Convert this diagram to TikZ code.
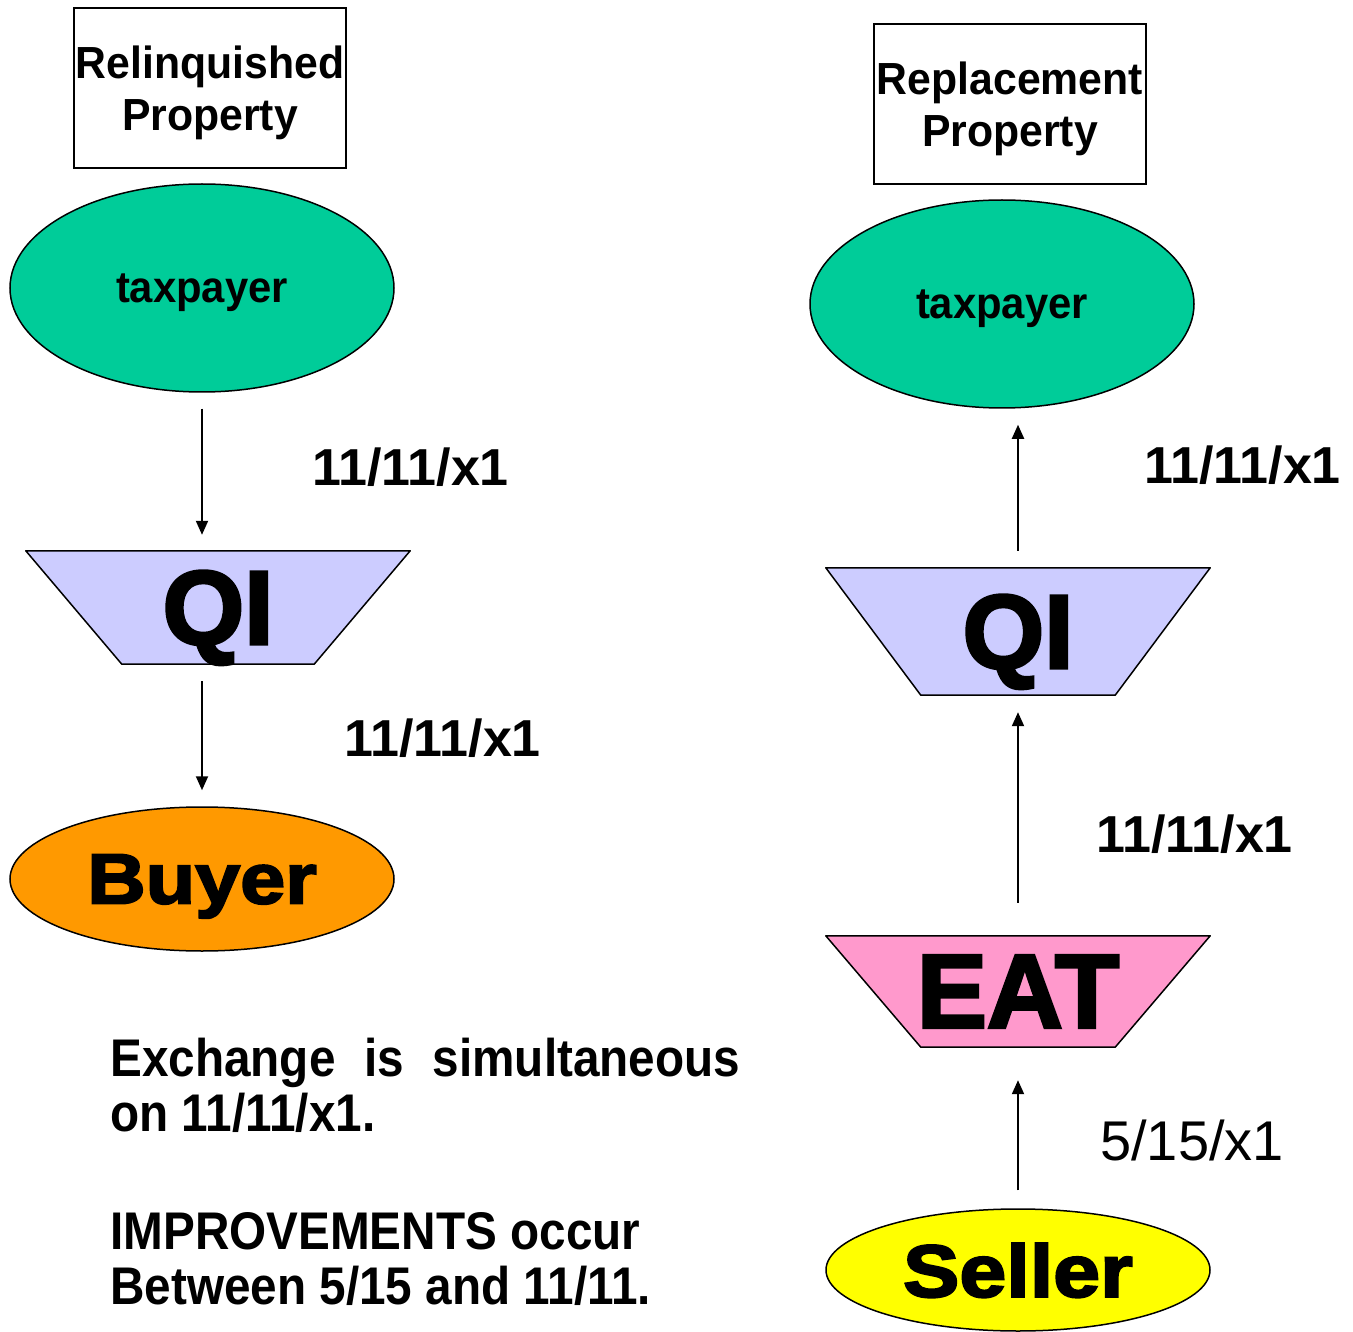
\documentclass[tikz,border=0pt]{standalone}
\usepackage{fontspec}
\setmainfont{Liberation Sans}
\newfontfamily\boxfont[FakeStretch=0.95]{Liberation Sans}
\newfontfamily\notefont[FakeStretch=0.9]{Liberation Sans}
\newfontfamily\heavyfont[FakeBold=3]{Liberation Sans}
\newfontfamily\widefont[FakeBold=3,FakeStretch=1.14]{Liberation Sans}
\usetikzlibrary{arrows.meta,positioning,backgrounds,shapes.geometric}

\definecolor{teal}{HTML}{00CC99}
\definecolor{qiblue}{HTML}{CCCCFF}
\definecolor{eatpink}{HTML}{FF99CC}
\definecolor{buyorange}{HTML}{FF9900}
\definecolor{sellyellow}{HTML}{FFFF00}

\begin{document}
\begin{tikzpicture}[x=1pt,y=-1pt,
    propbox/.style={draw,line width=2pt,minimum width=272pt,minimum height=160pt,inner sep=0pt,align=center,text depth=0pt,font=\boxfont\bfseries\fontsize{45}{52}\selectfont},
    party/.style={ellipse,draw,line width=1.5pt,inner sep=0pt,minimum width=384pt,text depth=0pt},
    agent/.style={inner sep=0pt,minimum width=384pt,text depth=0pt,font=\heavyfont\bfseries\fontsize{105}{105}\selectfont},
    date/.style={anchor=base west,inner sep=0pt,font=\bfseries\fontsize{52}{60}\selectfont},
    note/.style={anchor=base west,inner sep=0pt,align=left,font=\notefont\bfseries\fontsize{53}{55}\selectfont},
    flow/.style={line width=2pt,-{Triangle[length=14pt,width=12pt]}}]
        \useasboundingbox (0,0) rectangle (1353,1332);

        % relinquished side
        \node[propbox] (rel) at (210,88) {Relinquished\\Property};
        \node[party,fill=teal,minimum height=208pt,font=\boxfont\bfseries\fontsize{44}{52}\selectfont] (tp1) at (202,288) {taxpayer};
        \node[agent,minimum height=113pt] (qi1) at (218,607.5) {QI};
        \node[party,fill=buyorange,minimum height=144pt,font=\widefont\bfseries\fontsize{71}{71}\selectfont] (buyer) at (202,879) {Buyer};

        % replacement side
        \node[propbox] (rep) at (1010,104) {Replacement\\Property};
        \node[party,fill=teal,minimum height=208pt,font=\boxfont\bfseries\fontsize{44}{52}\selectfont] (tp2) at (1002,304) {taxpayer};
        \node[agent,minimum height=127pt] (qi2) at (1018,631.5) {QI};
        \node[agent,minimum height=111pt] (eat) at (1018,991.5) {EAT};
        \node[party,fill=sellyellow,minimum height=122pt,font=\widefont\bfseries\fontsize{74}{74}\selectfont] (seller) at (1018,1270) {Seller};

        % trapezoids behind the QI and EAT labels
        \begin{scope}[on background layer]
            \foreach \n/\c/\d in {qi1/qiblue/96,qi2/qiblue/95,eat/eatpink/95}{
                \filldraw[fill=\c,line width=1.5pt,line join=round] (\n.north west) -- (\n.north east)
                    -- ([xshift=-\d pt]\n.south east) -- ([xshift=\d pt]\n.south west) -- cycle;
            }
        \end{scope}

        \draw[flow,shorten <=16pt,shorten >=16pt] (tp1.south) -- (tp1.south |- qi1.north);
        \draw[flow,shorten <=17pt,shorten >=16pt] (buyer.north |- qi1.south) -- (buyer.north);
        \draw[flow,shorten <=17pt,shorten >=16pt] (qi2.north) -- (qi2.north |- tp2.south);
        \draw[flow,shorten <=33pt,shorten >=17pt] (eat.north) -- (qi2.south);
        \draw[flow,shorten <=18pt,shorten >=33pt] (seller.north) -- (eat.south);

        \node[date] (d1) at (312,485) {11/11/x1};
        \node[date] (d2) at (344,756) {11/11/x1};
        \node[date] (d3) at (1144,483) {11/11/x1};
        \node[date] (d4) at (1096,852) {11/11/x1};
        \node[date,font=\fontsize{56}{60}\selectfont] (d5) at (1100,1160) {5/15/x1};

        \node[note] (n1) at (110,1131) {\makebox[630pt][s]{Exchange is simultaneous}\\on 11/11/x1.};
        \node[note] (n2) at (110,1304) {IMPROVEMENTS occur\\Between 5/15 and 11/11.};
    \end{tikzpicture}
\end{document}
